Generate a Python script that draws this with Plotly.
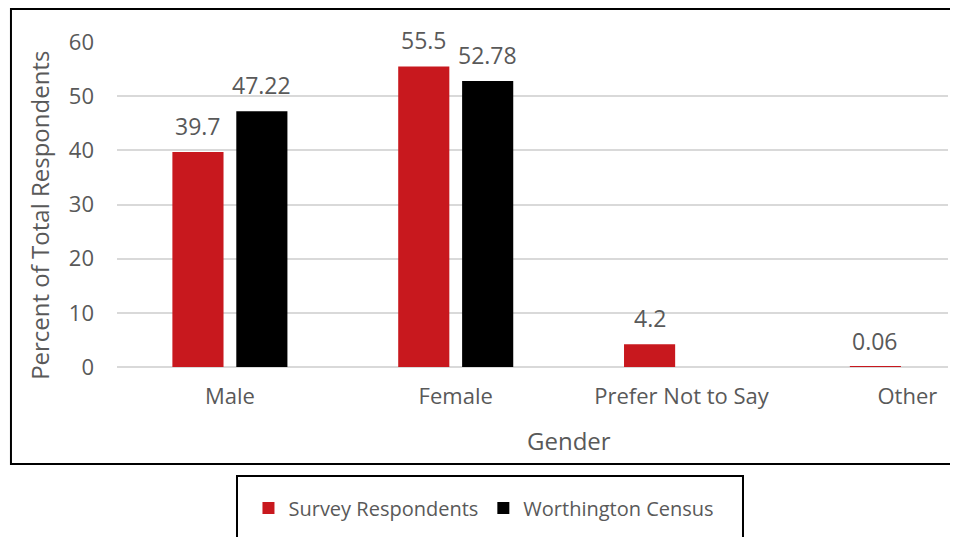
import plotly.graph_objects as go

categories = ["Male", "Female", "Prefer Not to Say", "Other"]
survey = [39.7, 55.5, 4.2, 0.06]
census = [47.22, 52.78, None, None]
y_ticks = [0, 10, 20, 30, 40, 50, 60]

RED = "#C8181E"
TEXT = "#595959"
FONT = "Open Sans"

fig = go.Figure()

fig.add_trace(go.Bar(
    x=categories, y=survey, name="Survey Respondents",
    marker=dict(color=RED, line=dict(width=0)),
))
fig.add_trace(go.Bar(
    x=categories, y=census, name="Worthington Census",
    marker=dict(color="black", line=dict(width=0)),
))

# data labels above each bar
annotations = []
for i, cat in enumerate(categories):
    for vals, shift in ((survey, -32), (census, 32)):
        v = vals[i]
        if v is None:
            continue
        annotations.append(dict(
            x=i, y=v, xref="x", yref="y", text=str(v), showarrow=False,
            xshift=shift, yshift=26, yanchor="middle",
            font=dict(family=FONT, size=23, color=TEXT),
        ))

# axis titles
annotations.append(dict(
    x=1.5, y=-0.225, xref="x", yref="paper", text="Gender", showarrow=False,
    yanchor="middle", font=dict(family=FONT, size=24, color=TEXT),
))
annotations.append(dict(
    x=-0.0927, y=0.468, xref="paper", yref="paper", text="Percent of Total Respondents",
    showarrow=False, textangle=-90, xanchor="center", yanchor="middle",
    font=dict(family=FONT, size=24, color=TEXT),
))

fig.update_layout(
    width=958, height=537,
    margin=dict(l=109, r=18, t=34, b=178),
    paper_bgcolor="white", plot_bgcolor="white",
    barmode="group", bargap=0.434, bargroupgap=0.2,
    font=dict(family=FONT, color=TEXT),
    showlegend=True,
    legend=dict(
        orientation="h", x=0.4416, xanchor="center", y=-0.434, yanchor="middle",
        font=dict(family=FONT, size=20, color=TEXT),
        bgcolor="rgba(0,0,0,0)",
    ),
    annotations=annotations,
    shapes=[
        # outer chart border
        dict(type="rect", xref="paper", yref="paper",
             x0=-0.1276, x1=1.0072, y0=-0.2985, y1=1.1015,
             line=dict(color="black", width=2)),
        # legend box
        dict(type="rect", xref="paper", yref="paper",
             x0=0.1444, x1=0.7533, y0=-0.60, y1=-0.3354,
             line=dict(color="black", width=2)),
    ],
)

fig.update_xaxes(
    range=[-0.5, 3.18], showgrid=False, showline=False, zeroline=False,
    ticks="", ticklabelstandoff=14,
    tickfont=dict(family=FONT, size=22, color=TEXT),
)
fig.update_yaxes(
    range=[0, 60], tickvals=y_ticks, showgrid=True, gridcolor="#D9D9D9", gridwidth=1.5,
    zeroline=True, zerolinecolor="#D9D9D9", zerolinewidth=1.5,
    showline=False, ticks="", ticklabelstandoff=22,
    tickfont=dict(family=FONT, size=22, color=TEXT),
)

fig.write_html("out.html")
